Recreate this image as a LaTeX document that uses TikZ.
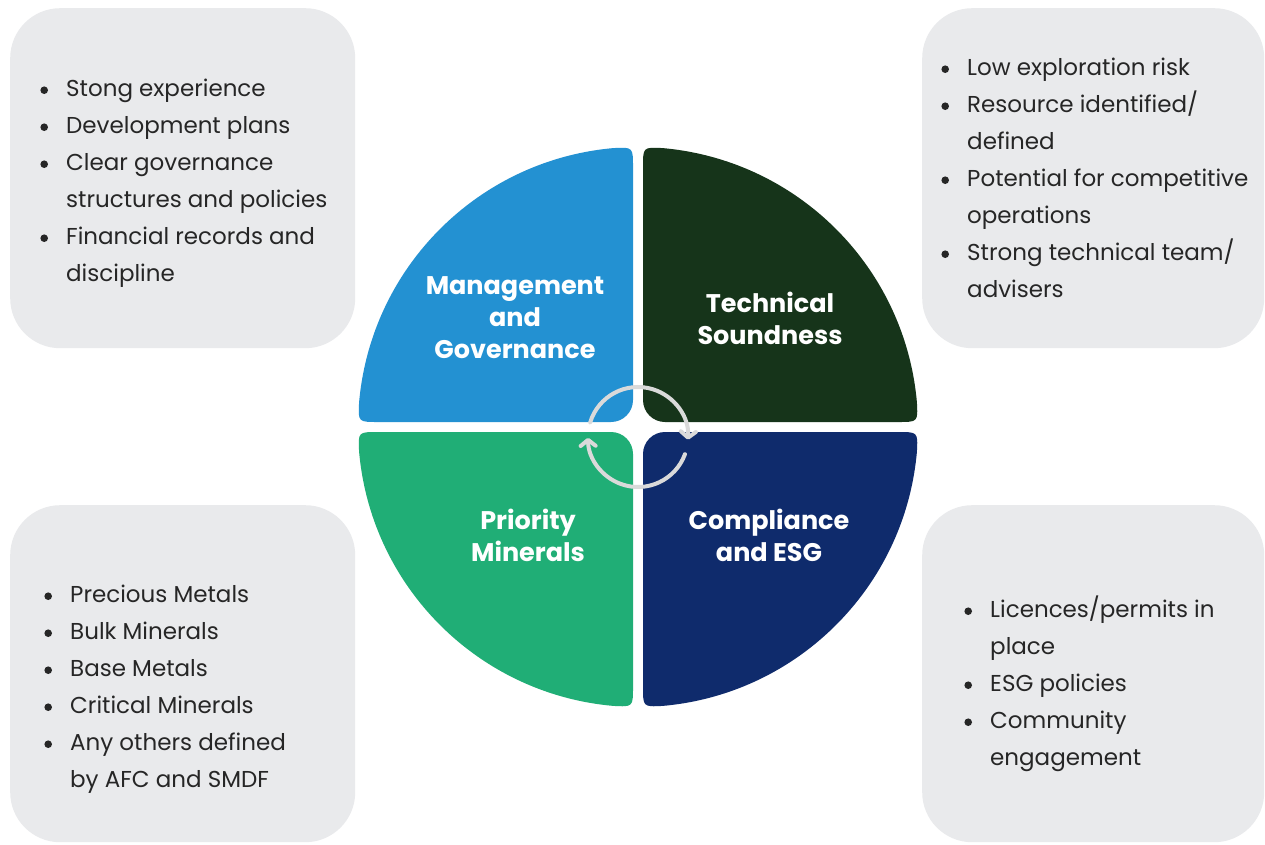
\documentclass[tikz,border=0pt]{standalone}
\usepackage{fontspec}
\setmainfont{Poppins}
\usetikzlibrary{arrows.meta}

\definecolor{boxgray}{HTML}{E9EAEC}
\definecolor{mgmtblue}{HTML}{2391D2}
\definecolor{techgreen}{HTML}{16341A}
\definecolor{minergreen}{HTML}{20AE76}
\definecolor{esgnavy}{HTML}{0F2B6C}
\definecolor{cyclegray}{HTML}{DADADA}
\definecolor{bodytext}{HTML}{262626}

% bullet marker and hanging indent for continuation lines
\newcommand\blt{\makebox[0pt]{\raisebox{2pt}{\tikz\fill[bodytext] (0,0) circle (3.8pt);}}\hspace*{22pt}}
\newcommand\cnt{\hspace*{22pt}}

\begin{document}
\begin{tikzpicture}[x=1pt,y=1pt,
  infobox/.style={fill=boxgray, draw=none, rounded corners=50pt,
    anchor=north west, inner sep=0pt},
  bulletlist/.style={anchor=base west, inner sep=0pt, text=bodytext,
    font=\fontsize{23}{37}\selectfont},
  pillarlabel/.style={text=white, inner sep=0pt, align=center,
    font=\bfseries\fontsize{25.5}{32}\selectfont},
  cyclearrow/.style={draw=cyclegray, line width=4pt, line cap=round,
    -{Straight Barb[round, length=6pt, width=15pt]}},
  % one quarter of the disc (upper right), with rounded corners;
  % the other three are mirror images of it
  pics/quadrant/.style={code={
    \fill[#1] (5,27) arc[start angle=180, end angle=270, radius=22]
      -- (259.96,5) .. controls (279.955,5) .. (278.88,24.97)
      arc[start angle=5.116, end angle=84.884, radius=280]
      .. controls (5,279.955) .. (5,259.96) -- cycle;
  }}
]
\fill[white] (0,0) rectangle (1265,-844);
\useasboundingbox (0,0) rectangle (1265,-844);

% ---- grey information panels ----
\node[infobox, minimum width=345pt, minimum height=340pt] (govbox) at (10,-8) {};
\node[infobox, minimum width=342pt, minimum height=340pt] (techbox) at (922,-8) {};
\node[infobox, minimum width=345pt, minimum height=337pt] (minbox) at (10,-505) {};
\node[infobox, minimum width=342pt, minimum height=337pt] (esgbox) at (922,-505) {};

\node[bulletlist] (govlist) at (44,-96) {\begin{tabular}[t]{@{}l@{}}
\blt Stong experience\\
\blt Development plans\\
\blt Clear governance\\
\cnt structures and policies\\
\blt Financial records and\\
\cnt discipline
\end{tabular}};

\node[bulletlist] (techlist) at (945,-75) {\begin{tabular}[t]{@{}l@{}}
\blt Low exploration risk\\
\blt Resource identified/\\
\cnt defined\\
\blt Potential for competitive\\
\cnt operations\\
\blt Strong technical team/\\
\cnt advisers
\end{tabular}};

\node[bulletlist] (minlist) at (48,-602) {\begin{tabular}[t]{@{}l@{}}
\blt Precious Metals\\
\blt Bulk Minerals\\
\blt Base Metals\\
\blt Critical Minerals\\
\blt Any others defined\\
\cnt by AFC and SMDF
\end{tabular}};

\node[bulletlist] (esglist) at (968,-617) {\begin{tabular}[t]{@{}l@{}}
\blt Licences/permits in\\
\cnt place\\
\blt ESG policies\\
\blt Community\\
\cnt engagement
\end{tabular}};

% ---- the four pillars ----
\coordinate (hub) at (638,-427);
\pic[xscale=-1] (mgmt) at (hub) {quadrant=mgmtblue};
\pic (tech) at (hub) {quadrant=techgreen};
\pic[xscale=-1, yscale=-1] (miner) at (hub) {quadrant=minergreen};
\pic[yscale=-1] (esg) at (hub) {quadrant=esgnavy};

\node[pillarlabel] (mgmtlabel) at (515,-318) {Management\\and\\Governance};
\node[pillarlabel] (techlabel) at (770,-318) {Technical\\Soundness};
\node[pillarlabel] (minlabel) at (528,-535) {Priority\\Minerals};
\node[pillarlabel] (esglabel) at (769,-535) {Compliance\\and ESG};

% ---- circular arrows in the middle ----
\coordinate (loop) at (638,-437);
\begin{scope}[shift={(loop)}]
  \draw[cyclearrow] (163:50) arc[start angle=163, end angle=-3, radius=50];
  \draw[cyclearrow] (-20:50) arc[start angle=-20, end angle=-179, radius=50];
\end{scope}
\end{tikzpicture}
\end{document}
